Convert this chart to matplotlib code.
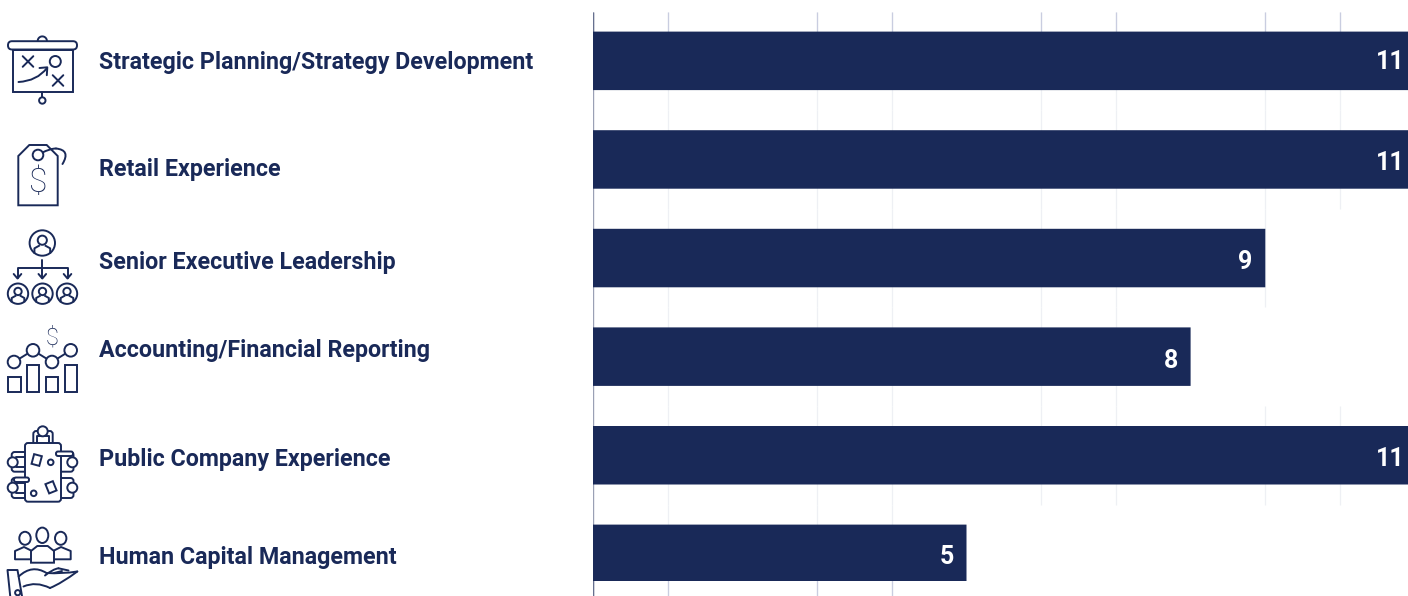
import numpy as np
import matplotlib
matplotlib.use("Agg")
import matplotlib.pyplot as plt
from matplotlib.patches import Circle, Ellipse, FancyBboxPatch, Rectangle, Polygon, PathPatch
from matplotlib.path import Path

categories = ["Strategic Planning/Strategy Development", "Retail Experience",
              "Senior Executive Leadership", "Accounting/Financial Reporting",
              "Public Company Experience", "Human Capital Management"]
values = [11, 11, 9, 8, 11, 5]
grid_ticks = [1, 3, 4, 6, 7, 9, 10]

NAVY = "#192958"
GRID_LIGHT = "#eef0f4"
GRID_STRONG = "#c9cde0"
AXIS_LIGHT = "#9aa0b5"
AXIS_STRONG = "#66708f"
FONT = "Roboto"

W, H = 1408, 596
fig = plt.figure(figsize=(W / 100, H / 100), dpi=100, facecolor="white")

# ---- chart
x0, unit = 593.0, 74.7
y0, pitch = 60.85, 98.6
ax = fig.add_axes([x0 / W, 0, 1 - x0 / W, 1])
ax.set_xlim(0, (W - x0) / unit)
ax.set_ylim((H - y0) / pitch, -y0 / pitch)
ax.axis("off")
rows = np.arange(len(values))
y_end = ax.get_ylim()[0]

for r, v in zip(rows, values):
    lo, hi = r - 0.5, min(r + 0.5, y_end)
    ticks = [t for t in grid_ticks if t <= v]
    ax.vlines(ticks, lo, hi, color=GRID_LIGHT, lw=0.9, zorder=1)
ax.vlines(grid_ticks, -0.5, 0, color=GRID_STRONG, lw=0.9, zorder=1.5)
ax.vlines([t for t in grid_ticks if t <= values[-1]], rows[-1], y_end,
          color=GRID_STRONG, lw=0.9, zorder=1.5)
ax.vlines(0, -0.5, y_end, color=AXIS_LIGHT, lw=1.0, zorder=1.6)
ax.vlines(0, -0.5, 0, color=AXIS_STRONG, lw=1.0, zorder=1.7)
ax.vlines(0, rows[-1], y_end, color=AXIS_STRONG, lw=1.0, zorder=1.7)

bars = ax.barh(rows, values, height=58.5 / pitch, color=NAVY, zorder=3)
for b in bars:
    b.set_snap(False)
    b.set_linewidth(0)
bars[-1].set_height(56.4 / pitch)

label_shift_px = [-0.3, 2.2, 2.0, 2.4, 2.5, 1.2]
for r, v, dy in zip(rows, values, label_shift_px):
    dx = -7.0 if v >= 10 else -9.3
    ax.annotate(str(v), (v, r), xytext=(dx, -6.3 - dy * 0.72), textcoords="offset points",
                ha="right", va="baseline", color="white", fontsize=18,
                fontfamily=FONT, fontweight="bold", zorder=4, annotation_clip=False)

# ---- overlay for category labels and pictograms (pixel coordinates)
ov = fig.add_axes([0, 0, 1, 1])
ov.set_xlim(0, W)
ov.set_ylim(H, 0)
ov.axis("off")
ov.patch.set_alpha(0)

baselines = [68.5, 175.7, 268.5, 356.5, 466.3, 564.3]
for name, yb in zip(categories, baselines):
    ov.text(99, yb, name, color=NAVY, fontsize=16.75, fontfamily=FONT,
            fontweight="bold", ha="left", va="baseline")

LW = 1.4
def line(pts, lw=LW):
    a = np.array(pts, float)
    ov.plot(a[:, 0], a[:, 1], color=NAVY, lw=lw, solid_capstyle="round",
            solid_joinstyle="round", clip_on=False)
def circ(x, y, r):
    ov.add_patch(Circle((x, y), r, fc="white", ec=NAVY, lw=LW, zorder=3))
def ell(x, y, rx, ry):
    ov.add_patch(Ellipse((x, y), 2 * rx, 2 * ry, fc="white", ec=NAVY, lw=LW, zorder=3))
def rrect(x1, y1, x2, y2, r=2, z=2):
    ov.add_patch(FancyBboxPatch((x1 + r, y1 + r), x2 - x1 - 2 * r, y2 - y1 - 2 * r,
                                boxstyle=f"round,pad={r},rounding_size={r}",
                                fc="white", ec=NAVY, lw=LW, zorder=z))
def curve(*pts):
    codes = [Path.MOVETO] + [Path.CURVE3] * (len(pts) - 1)
    ov.add_patch(PathPatch(Path(pts, codes), fc="none", ec=NAVY, lw=LW, capstyle="round"))
def arc(x, y, r, a1, a2):
    t = np.radians(np.linspace(a1, a2, 40))
    line(np.c_[x + r * np.cos(t), y + r * np.sin(t)])
def person(x, y, r):
    ov.add_patch(Circle((x, y), r, fc="white", ec=NAVY, lw=LW, zorder=3))
    ov.add_patch(Circle((x, y - r * .22), r * .36, fc="white", ec=NAVY, lw=LW, zorder=4))
    a = np.array([[x - r * .62, y + r * .76], [x - r * .62, y + r * .42], [x - r * .26, y + r * .22]])
    b = a.copy(); b[:, 0] = 2 * x - b[:, 0]
    for s in (a, b):
        ov.plot(s[:, 0], s[:, 1], color=NAVY, lw=LW, zorder=4)
def cross(x, y, h):
    line([(x - h, y - h), (x + h, y + h)]); line([(x - h, y + h), (x + h, y - h)])
def dollar(x, y, size):
    ov.text(x, y, "$", color=NAVY, fontsize=size, fontfamily="Roboto", fontweight="light",
            ha="center", va="center", zorder=5)

# strategy board
arc(42.3, 41, 4.6, 180, 360)
rrect(8, 41.2, 77, 49.5, r=4)
ov.add_patch(Rectangle((12.5, 49.8), 60.5, 42.2, fc="white", ec=NAVY, lw=LW))
line([(42.3, 92), (42.3, 97)])
circ(42.3, 100.5, 3.2)
cross(28, 61.5, 5.3); circ(55.3, 61.5, 5.5); cross(58, 80.5, 5.3)
curve((18.5, 82), (37, 81), (47, 68))
line([(39.5, 68), (47.3, 67.3), (46.8, 75.2)])

# price tag
ov.add_patch(Polygon([(18.3, 205.3), (18.3, 156), (29.3, 145), (46.7, 145), (57.7, 156), (57.7, 205.3)],
                     closed=True, fc="white", ec=NAVY, lw=LW))
circ(38, 155, 5.3)
curve((41.5, 153), (50, 148.5), (56, 148.5))
curve((56, 148.5), (71, 150), (62.5, 164))
dollar(38, 183, 24)

# org chart
person(42.3, 243, 12.7)
line([(42.3, 260), (42.3, 278)])
line([(17.5, 278), (17.5, 268), (67.5, 268), (67.5, 278)])
for xa in (17.5, 42.3, 67.5):
    line([(xa - 3.8, 274), (xa, 278.5), (xa + 3.8, 274)])
for xc in (18, 42.5, 67):
    person(xc, 293.7, 10.2)

# financial chart
pts = [(14, 362), (33, 350.3), (52, 362), (70.7, 350.3)]
line(pts)
for p in pts:
    circ(p[0], p[1], 6.3)
for xa, xb, yt in [(8.3, 20.7, 376.7), (27.3, 39.3, 365.3), (46.3, 58.3, 376.7), (65.3, 77.3, 365.3)]:
    ov.add_patch(Rectangle((xa, yt), xb - xa, 392 - yt, fc="white", ec=NAVY, lw=LW))
dollar(51.7, 338, 17)

# boardroom
rrect(33.3, 431, 52.7, 452, r=3, z=1)
line([(37.3, 443), (37.3, 436), (48.7, 436), (48.7, 443)])
circ(42.7, 431.3, 5)
for x1, y1, x2, y2 in [(11.7, 452, 30, 471.7), (11.7, 478, 30, 498), (56, 452, 73.5, 471.7), (56, 478, 73.5, 498)]:
    rrect(x1, y1, x2, y2, r=3, z=1)
    if x1 < 30:
        line([(x1 + 4, y1 + 5), (x2, y1 + 5)])
        line([(x1 + 4, y2 - 5), (x2, y2 - 5)])
rrect(25, 443, 61, 501.7, r=3, z=2.5)
rrect(56, 451.5, 73, 456, r=2, z=3)
rrect(14, 477.5, 29, 482, r=2, z=3)
for xc, yc in [(12.7, 462.3), (12.7, 487.7), (72.3, 462.3), (72.3, 487.7)]:
    circ(xc, yc, 5)
for xc, yc, ang in [(36.7, 460, 15), (51, 487.3, -22)]:
    t = np.radians(ang)
    sq = np.array([[-4, -5], [4, -5], [4, 5], [-4, 5]], float)
    rot = np.c_[sq[:, 0] * np.cos(t) - sq[:, 1] * np.sin(t), sq[:, 0] * np.sin(t) + sq[:, 1] * np.cos(t)]
    ov.add_patch(Polygon(rot + [xc, yc], closed=True, fc="white", ec=NAVY, lw=LW, zorder=4))
ov.add_patch(Circle((50.7, 462.3), 2.8, fc="white", ec=NAVY, lw=LW, zorder=4))
ov.add_patch(Circle((33.7, 493.3), 2.8, fc="white", ec=NAVY, lw=LW, zorder=4))

# people in a hand
line([(31, 559.3), (15, 559.3), (15, 551), (24, 547), (31, 550.5)])
line([(54, 559.3), (70.7, 559.3), (70.7, 551), (61, 547), (54, 550.5)])
ov.add_patch(Polygon([(31, 562.7), (31, 551), (37.3, 546), (47.7, 546), (54, 551), (54, 562.7)],
                     closed=True, fc="white", ec=NAVY, lw=LW, zorder=3))
ell(25, 538.3, 5.7, 6.5); ell(60.7, 538.3, 5.7, 6.5); ell(42.3, 535.3, 6, 7.7)
line([(10.2, 596), (7.5, 570), (17.5, 570), (22, 596)])
circ(17.7, 592.7, 2.6)
curve((18.7, 576.5), (32, 564), (46.5, 573))
curve((46.5, 573), (62, 574), (77.3, 571.5))
curve((77.3, 571.5), (62, 583), (50, 588))
curve((50, 588), (36, 581), (23.5, 586.5))
curve((45, 575.5), (53, 569), (58.5, 568.3))
line([(58.5, 568.3), (68.5, 570.5)])
line([(54, 573), (62, 571)])

fig.savefig("out.png", dpi=100, facecolor="white")
